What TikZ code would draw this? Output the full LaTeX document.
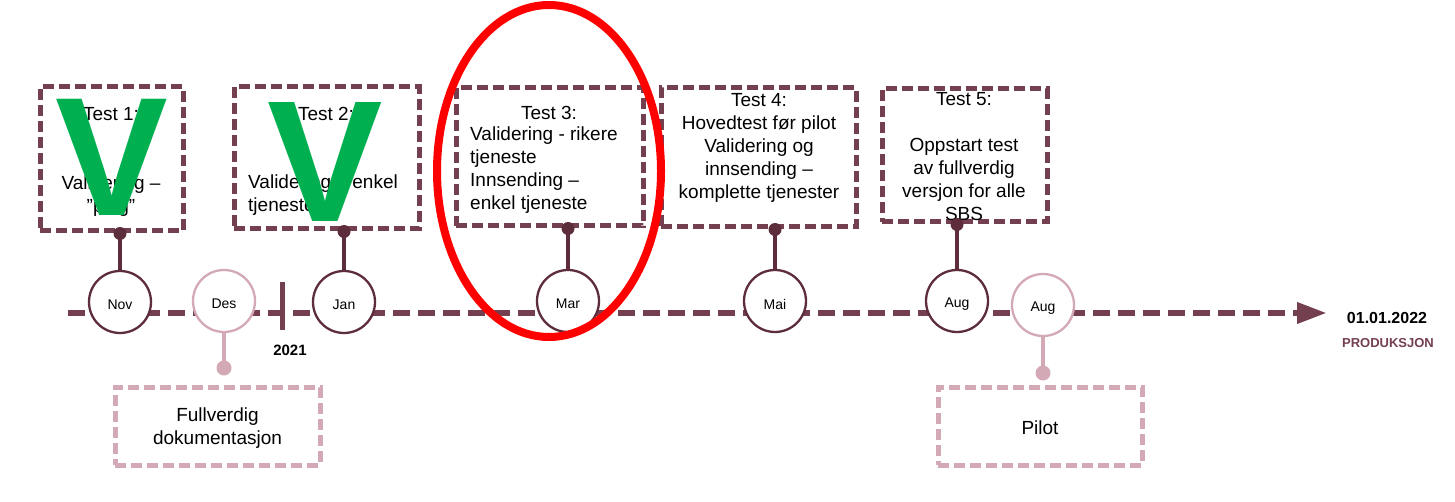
\documentclass[tikz,border=0pt]{standalone}
\usepackage{fontspec}
\setmainfont{Liberation Sans}
\usetikzlibrary{arrows.meta}
\definecolor{maroon}{HTML}{74404F}
\definecolor{dmaroon}{HTML}{5E2D3C}
\definecolor{rose}{HTML}{D3A9B5}
\definecolor{vgreen}{HTML}{00B050}
\newcommand{\mlab}[1]{\raisebox{-3pt}[\height][\depth]{#1}}
\begin{document}
\begin{tikzpicture}[x=1pt,y=-1pt,
  tbox/.style={draw=maroon, line width=5pt, dash pattern=on 11pt off 5pt, inner sep=0pt},
  pbox/.style={tbox, draw=rose},
  txt/.style={inner sep=0pt, font=\fontsize{19}{23}\selectfont},
  mon/.style={circle, draw=dmaroon, fill=white, line width=2.3pt, minimum size=62pt, inner sep=0pt, font=\fontsize{14}{16}\selectfont},
  monp/.style={mon, draw=rose},
  pin/.style={dmaroon, line width=4pt},
  pinp/.style={rose, line width=4pt},
  dot/.style={circle, fill=dmaroon, inner sep=0pt, minimum size=13pt},
  dotp/.style={dot, fill=rose, minimum size=15pt},
  bigv/.style={inner sep=0pt, text=vgreen}]
\useasboundingbox (0,0) rectangle (1455,502);

% timeline
\coordinate (tls) at (68,313);
\coordinate (tle) at (1327,313);
\draw[maroon, line width=6.5pt, dash pattern=on 17pt off 8pt, -{Triangle[length=30pt,width=20pt]}] (tls) -- (tle);
\draw[maroon, line width=5pt] (282,282) -- (282,330);
\node[inner sep=0pt, font=\bfseries\fontsize{15}{18}\selectfont] (yr) at (290,350) {2021};
\node[inner sep=0pt, font=\bfseries\fontsize{16}{18}\selectfont] (date) at (1387,318) {01.01.2022};
\node[inner sep=0pt, text=maroon, font=\bfseries\fontsize{13}{15}\selectfont] (prod) at (1388,343) {PRODUKSJON};

% boxes
\node[tbox, minimum width=143pt, minimum height=144pt] (b1) at (111.5,159) {};
\node[tbox, minimum width=185pt, minimum height=142pt] (b2) at (326.5,158) {};
\node[tbox, minimum width=187pt, minimum height=138pt] (b3) at (549.5,157) {};
\node[tbox, minimum width=195pt, minimum height=139pt] (b4) at (758.5,157.5) {};
\node[tbox, minimum width=165pt, minimum height=133pt] (b5) at (964.5,155.5) {};
\node[pbox, minimum width=205pt, minimum height=78pt] (bf) at (217.5,426) {};
\node[pbox, minimum width=204pt, minimum height=78pt] (bp) at (1040,426) {};

% box texts
\node[txt, align=center] (t1) at (111,162) {Test 1:\\[46pt]Validering –\\\symbol{34}plug\symbol{34}};
\node[txt] (t2h) at (326,114) {Test 2:};
\node[txt, align=left, anchor=west] (t2b) at (248,195) {Validering – enkel\\tjeneste};
\node[txt] (t3h) at (549,113) {Test 3:};
\node[txt, align=left, anchor=west] (t3b) at (470,170) {Validering - rikere\\tjeneste\\Innsending –\\enkel tjeneste};
\node[txt, align=center] (t4) at (759,148) {Test 4:\\Hovedtest før pilot\\Validering og\\innsending –\\komplette tjenester};
\node[txt, align=center] (t5) at (964,157) {Test 5:\\[23pt]Oppstart test\\av fullverdig\\versjon for alle\\SBS};
\node[txt, align=center] (tf) at (217.5,428) {Fullverdig\\dokumentasjon};
\node[txt] (tp) at (1040,428) {Pilot};

% month circles
\node[mon] (nov) at (120,302) {\mlab{Nov}};
\node[monp] (des) at (224,301) {\mlab{Des}};
\node[mon] (jan) at (344,302) {\mlab{Jan}};
\node[mon] (mar) at (568,301) {\mlab{Mar}};
\node[mon] (mai) at (775,301) {\mlab{Mai}};
\node[mon] (aug) at (957,301) {\mlab{Aug}};
\node[monp] (aug2) at (1043,305) {\mlab{Aug}};

% pins
\coordinate (p1) at (nov.north |- b1.south);
\coordinate (p2) at (jan.north |- b2.south);
\coordinate (p3) at (mar.north |- b3.south);
\coordinate (p4) at (mai.north |- b4.south);
\coordinate (p5) at (aug.north |- b5.south);
\draw[pin] (nov.north) -- (p1);
\draw[pin] (jan.north) -- (p2);
\draw[pin] (mar.north) -- (p3);
\draw[pin] (mai.north) -- (p4);
\draw[pin] (aug.north) -- (p5);
\node[dot] (d1) at (p1) {};
\node[dot] (d2) at (p2) {};
\node[dot] (d3) at (p3) {};
\node[dot] (d4) at (p4) {};
\node[dot] (d5) at (p5) {};
\coordinate (pf) at (226,368);
\coordinate (pp) at (1042,373);
\draw[pinp] (des.south) -- (des.south |- pf);
\draw[pinp] (aug2.south) -- (aug2.south |- pp);
\node[dotp] (df) at (des.south |- pf) {};
\node[dotp] (dp) at (aug2.south |- pp) {};

% green checks
\node[bigv, font=\bfseries\fontsize{169}{169}\selectfont] (v1) at (112,157.5) {V};
\node[bigv, font=\bfseries\fontsize{173}{173}\selectfont] (v2) at (325,162) {V};

% red ellipse
\coordinate (ring) at (549,171);
\draw[red, line width=8pt] (ring) ellipse [x radius=112, y radius=166];
\end{tikzpicture}
\end{document}
